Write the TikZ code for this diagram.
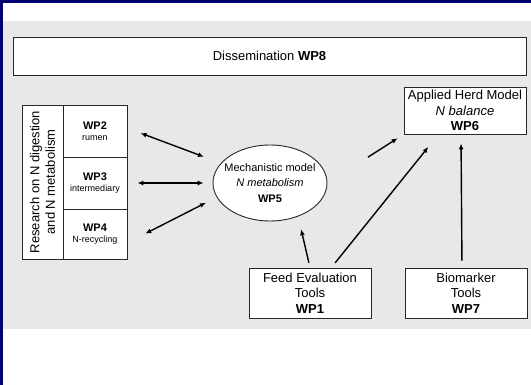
\documentclass[tikz,border=0pt]{standalone}
\usepackage{fontspec}
\setmainfont{Liberation Sans}
\usetikzlibrary{shapes.geometric,arrows.meta}
\definecolor{navy}{RGB}{0,0,112}
\definecolor{panelgray}{RGB}{232,232,232}
\definecolor{edgegray}{RGB}{40,40,40}

\begin{document}
\begin{tikzpicture}[
            x=1pt, y=-1pt,
            box-node/.style={rectangle,draw=edgegray,fill=white,line width=0.9pt,inner sep=0pt,align=center,font=\fontsize{13}{15.5}\selectfont},
            cell-node/.style={box-node,minimum width=64pt,font=\fontsize{9}{11}\selectfont},
            model-node/.style={ellipse,draw=edgegray,fill=white,line width=0.9pt,inner sep=0pt,minimum width=114pt,minimum height=76pt},
            arrow-line/.style={line width=1.4pt,-{Latex[length=6pt,width=5pt]}},
            both-line/.style={line width=1.4pt,{Latex[length=6pt,width=5pt]}-{Latex[length=6pt,width=5pt]}},
        ]
            % frame of the slide
            \path[use as bounding box,fill=white] (0,0) rectangle (531,385);
            \fill[panelgray] (3,21) rectangle (531,329);
            \fill[navy] (0,0) rectangle (3,385);
            \fill[navy] (0,0) rectangle (531,3);

            \node[box-node,minimum width=513pt,minimum height=38pt] (wp8) at (269.5,56) {Dissemination \textbf{WP8}};

            % research block
            \node[box-node,rotate=90,minimum width=154pt,minimum height=41pt] (research) at (42.5,182) {Research on N digestion\\and N metabolism};
            \node[cell-node,minimum height=52pt] (wp2) at (95,131) {{\fontsize{11}{13}\selectfont\bfseries WP2}\\rumen};
            \node[cell-node,minimum height=52pt] (wp3) at (95,183) {{\fontsize{11}{13}\selectfont\bfseries WP3}\\intermediary};
            \node[cell-node,minimum height=50pt] (wp4) at (95,234) {{\fontsize{11}{13}\selectfont\bfseries WP4}\\N-recycling};

            \node[model-node] (model) at (270,183) {};
            \node[align=center,inner sep=0pt,font=\fontsize{11}{15.5}\selectfont] (model-text) at (model) {Mechanistic model\\\textit{N metabolism}\\\textbf{WP5}};

            \node[box-node,minimum width=122pt,minimum height=47pt] (herd) at (465,110.5) {Applied Herd Model\\\textit{N balance}\\\textbf{WP6}};
            \node[box-node,minimum width=122pt,minimum height=50pt] (feed) at (310,293) {Feed Evaluation\\Tools\\\textbf{WP1}};
            \node[box-node,minimum width=122pt,minimum height=50pt] (bio) at (466,293) {Biomarker\\Tools\\\textbf{WP7}};

            % connectors
            \draw[both-line,shorten <=14pt,shorten >=18pt] (wp2.5) -- (model.158);
            \draw[both-line,shorten <=10pt,shorten >=9pt] (wp3.east) -- (model.west);
            \draw[both-line,shorten <=20pt,shorten >=12pt] (wp4.-15) -- (model.195);
            \draw[arrow-line,shorten <=48pt,shorten >=7pt] (model.east) -- (herd.south west);
            \draw[arrow-line,shorten <=5pt,shorten >=13pt] (feed.north) -- (model.-50);
            \draw[arrow-line,shorten <=6pt,shorten >=16pt] (feed.50) -- (herd.222);
            \draw[arrow-line,shorten <=7pt,shorten >=9pt] ([xshift=-4pt]bio.north) -- ([xshift=-4pt]herd.south);
        \end{tikzpicture}
\end{document}
